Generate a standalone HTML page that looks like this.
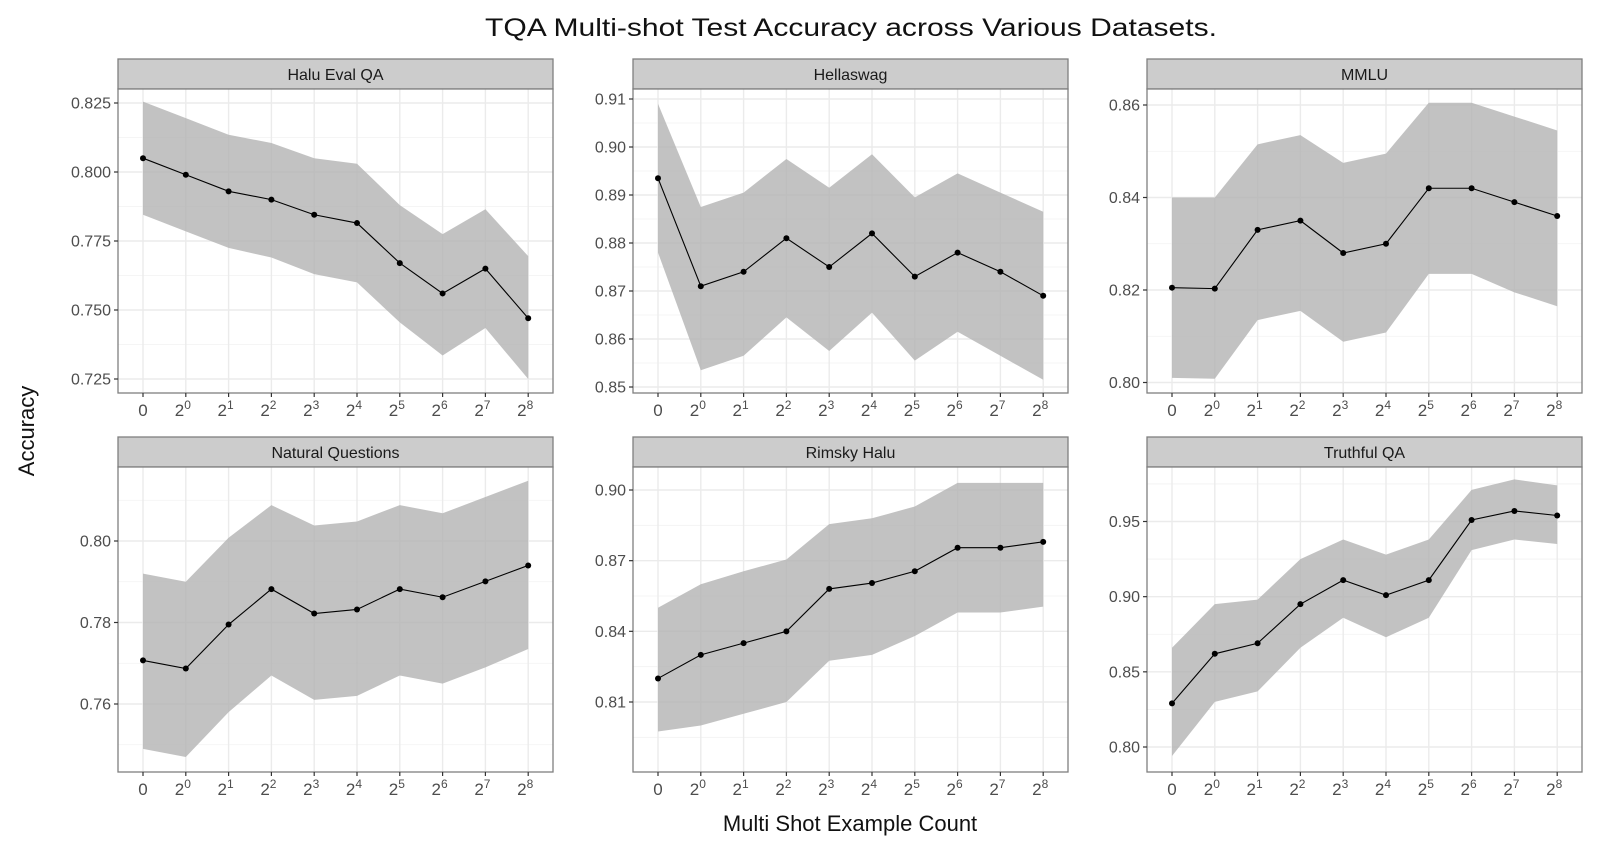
<!DOCTYPE html>
<html><head><meta charset="utf-8"><style>
html,body{margin:0;padding:0;background:#fff;width:1600px;height:853px;overflow:hidden;}
svg{display:block;font-family:"Liberation Sans","DejaVu Sans",sans-serif;}
</style></head><body>
<svg id="chart" width="1600" height="853" viewBox="0 0 1600 853" xmlns="http://www.w3.org/2000/svg">
<text x="851" y="36" font-size="25" text-anchor="middle" fill="#111" textLength="732" lengthAdjust="spacingAndGlyphs">TQA Multi-shot Test Accuracy across Various Datasets.</text>
<text x="0" y="0" font-size="22" text-anchor="middle" fill="#111" transform="translate(34,431) rotate(-90)">Accuracy</text>
<text x="850" y="831" font-size="22" text-anchor="middle" fill="#111">Multi Shot Example Count</text>
<g id="panels"></g>
</svg>
<script>
const categories = ["0","2^0","2^1","2^2","2^3","2^4","2^5","2^6","2^7","2^8"];
const panelTitles = ["Halu Eval QA","Hellaswag","MMLU","Natural Questions","Rimsky Halu","Truthful QA"];
const meanHalu = [0.805,0.799,0.793,0.790,0.7845,0.7815,0.767,0.756,0.765,0.747];
const upperHalu = [0.8255,0.8195,0.8135,0.8105,0.805,0.803,0.788,0.7775,0.7865,0.7695];
const lowerHalu = [0.7845,0.7785,0.7725,0.769,0.763,0.760,0.7455,0.7335,0.7435,0.725];
const meanHella = [0.8935,0.871,0.874,0.881,0.875,0.882,0.873,0.878,0.874,0.869];
const upperHella = [0.909,0.8875,0.8905,0.8975,0.8915,0.8985,0.8895,0.8945,0.8905,0.8865];
const lowerHella = [0.878,0.8535,0.8565,0.8645,0.8575,0.8655,0.8555,0.8615,0.8565,0.8515];
const meanMMLU = [0.8205,0.8203,0.833,0.835,0.828,0.830,0.842,0.842,0.839,0.836];
const upperMMLU = [0.840,0.840,0.8515,0.8535,0.8475,0.8495,0.8605,0.8605,0.8575,0.8545];
const lowerMMLU = [0.801,0.8008,0.8135,0.8155,0.8088,0.8108,0.8235,0.8235,0.8195,0.8165];
const meanNQ = [0.7707,0.7687,0.7795,0.7882,0.7822,0.7832,0.7882,0.7862,0.7901,0.7940];
const upperNQ = [0.792,0.790,0.8008,0.8088,0.8038,0.8048,0.8088,0.8068,0.8108,0.8148];
const lowerNQ = [0.749,0.747,0.758,0.767,0.761,0.762,0.767,0.765,0.769,0.7735];
const meanRim = [0.820,0.830,0.835,0.840,0.858,0.8605,0.8655,0.8755,0.8755,0.878];
const upperRim = [0.850,0.860,0.8655,0.8705,0.8855,0.888,0.893,0.903,0.903,0.903];
const lowerRim = [0.7975,0.800,0.805,0.810,0.8275,0.830,0.838,0.848,0.848,0.8505];
const meanTQA = [0.829,0.862,0.869,0.895,0.911,0.901,0.911,0.951,0.957,0.954];
const upperTQA = [0.866,0.895,0.898,0.925,0.938,0.928,0.938,0.971,0.978,0.974];
const lowerTQA = [0.794,0.830,0.837,0.866,0.886,0.873,0.886,0.931,0.938,0.935];
const ticksHalu = [0.725,0.750,0.775,0.800,0.825];
const ticksHella = [0.85,0.86,0.87,0.88,0.89,0.90,0.91];
const ticksMMLU = [0.80,0.82,0.84,0.86];
const ticksNQ = [0.76,0.78,0.80];
const ticksRim = [0.81,0.84,0.87,0.90];
const ticksTQA = [0.80,0.85,0.90,0.95];
const tickDigits = [3,2,2,2,2,2];

const NS="http://www.w3.org/2000/svg";
const root=document.getElementById('panels');
function mk(tag,attrs,parent){const e=document.createElementNS(NS,tag);for(const k in attrs)e.setAttribute(k,attrs[k]);(parent||root).appendChild(e);return e;}

const layout=[
 {x:118,top:89,bot:393,cal:[0.825,103,0.725,379]},
 {x:633,top:89,bot:393,cal:[0.91,99,0.85,387]},
 {x:1147,top:89,bot:393,cal:[0.86,105,0.80,382.5]},
 {x:118,top:467,bot:772,cal:[0.80,541,0.76,704]},
 {x:633,top:467,bot:772,cal:[0.90,490,0.81,702]},
 {x:1147,top:467,bot:772,cal:[0.95,521.5,0.80,747]}
];
const W=435;
const series=[[meanHalu,upperHalu,lowerHalu,ticksHalu],[meanHella,upperHella,lowerHella,ticksHella],[meanMMLU,upperMMLU,lowerMMLU,ticksMMLU],[meanNQ,upperNQ,lowerNQ,ticksNQ],[meanRim,upperRim,lowerRim,ticksRim],[meanTQA,upperTQA,lowerTQA,ticksTQA]];

series.forEach((s,pi)=>{
  const L=layout[pi];const [mean,up,lo,ticks]=s;
  const c=L.cal;const k=(c[3]-c[1])/(c[2]-c[0]);
  const y=v=>c[1]+(v-c[0])*k;
  const x=i=>L.x+25+i*42.8;
  const g=mk('g',{});
  
  
  const st=mk('rect',{x:L.x,y:L.top-30,width:W,height:30,fill:'#cccccc',stroke:'#7f7f7f','stroke-width':1.3},g);
  
  
  const stt=mk('text',{x:L.x+W/2,y:L.top-9,'font-size':16,'text-anchor':'middle',fill:'#1a1a1a'},g);
  stt.textContent=panelTitles[pi];
  
  
  const bg=mk('rect',{x:L.x,y:L.top,width:W,height:L.bot-L.top,fill:'#fff'},g);
  
  
  const clip='clip'+pi;
  const cp=mk('clipPath',{id:clip},g);mk('rect',{x:L.x,y:L.top,width:W,height:L.bot-L.top},cp);
  const grid=mk('g',{'clip-path':'url(#'+clip+')'},g);
  
  
  const step=ticks[1]-ticks[0];
  for(let t=ticks[0]-step*3;t<=ticks[ticks.length-1]+step*3;t+=step){
    const ym=y(t+step/2);
    if(ym>L.top && ym<L.bot) mk('line',{x1:L.x,x2:L.x+W,y1:ym,y2:ym,stroke:'#f2f2f2','stroke-width':0.8},grid);
  }
  ticks.forEach(t=>mk('line',{x1:L.x,x2:L.x+W,y1:y(t),y2:y(t),stroke:'#ebebeb','stroke-width':1.4},grid));
  categories.forEach((cname,i)=>mk('line',{x1:x(i),x2:x(i),y1:L.top,y2:L.bot,stroke:'#ebebeb','stroke-width':1.4},grid));
  let d='';up.forEach((v,i)=>d+=(i?'L':'M')+x(i)+','+y(v));
  for(let i=lo.length-1;i>=0;i--)d+='L'+x(i)+','+y(lo[i]);
  const rib=mk('path',{d:d+'Z',fill:'#b3b3b3','fill-opacity':0.8},grid);
  
  
  let ld='';mean.forEach((v,i)=>ld+=(i?'L':'M')+x(i)+','+y(v));
  const ln=mk('path',{d:ld,fill:'none',stroke:'#000','stroke-width':1.1},grid);
  
  
  mean.forEach((v,i)=>{
    const p=mk('circle',{cx:x(i),cy:y(v),r:3,fill:'#000'},grid);
    
    
  });
  const br=mk('rect',{x:L.x,y:L.top,width:W,height:L.bot-L.top,fill:'none',stroke:'#7f7f7f','stroke-width':1.3},g);
  
  
  ticks.forEach(t=>{
    mk('line',{x1:L.x-4,x2:L.x,y1:y(t),y2:y(t),stroke:'#333','stroke-width':1.2},g);
    const tl=mk('text',{x:L.x-7,y:y(t)+5.5,'font-size':16,'text-anchor':'end',fill:'#4d4d4d'},g);
    tl.textContent=t.toFixed(tickDigits[pi]);
    
    
  });
  categories.forEach((cname,i)=>{
    mk('line',{x1:x(i),x2:x(i),y1:L.bot,y2:L.bot+4,stroke:'#333','stroke-width':1.2},g);
    const tl=mk('text',{x:x(i),y:L.bot+23,'font-size':17,'text-anchor':'middle',fill:'#4d4d4d'},g);
    
    
    if(cname.indexOf('^')>=0){
      const parts=cname.split('^');
      const a=mk('tspan',{},tl);a.textContent=parts[0];
      const b=mk('tspan',{'font-size':12,dy:-7},tl);b.textContent=parts[1];
      tl.setAttribute('x',x(i)-3);
    } else tl.textContent=cname;
  });
});
</script>
</body></html>
